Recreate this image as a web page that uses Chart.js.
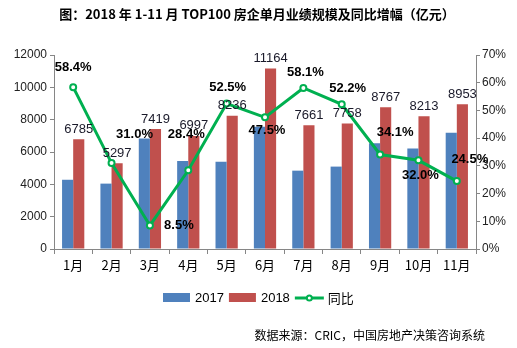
<!DOCTYPE html>
<html><head><meta charset="utf-8">
<script src="https://cdn.jsdelivr.net/npm/chart.js@4.4.1/dist/chart.umd.min.js"></script>
<style>html,body{margin:0;padding:0;background:#fff;}#wrap{width:517px;height:348px;}</style>
</head><body><div id="wrap"><canvas id="c" width="517" height="348"></canvas></div>
<script>
const categories = ['1月','2月','3月','4月','5月','6月','7月','8月','9月','10月','11月'];
const values2017 = [4283, 4044, 6838, 5449, 5401, 7569, 4846, 5097, 6538, 6222, 7191];
const values2018 = [6785, 5297, 7419, 6997, 8236, 11164, 7661, 7758, 8767, 8213, 8953];
const growth = [0.584, 0.310, 0.085, 0.284, 0.525, 0.475, 0.581, 0.522, 0.341, 0.320, 0.245];
const leftTicks = [0, 2000, 4000, 6000, 8000, 10000, 12000];
const rightTicks = [0, 0.1, 0.2, 0.3, 0.4, 0.5, 0.6, 0.7];
const seriesNames = ['2017', '2018', '同比'];
// label placement offsets (style, px) for growth labels
const growthLabelOffsets = [[0,-20],[23,-29],[29,0],[-2,-36],[1,-16],[2,13],[2,-16],[6,-16],[15,-22],[2,15],[13,-22]];

const FONT = '"Liberation Sans", "Noto Sans CJK SC", sans-serif';
const CJK = '"Noto Sans CJK SC", "Liberation Sans", sans-serif';
const BLUE = '#4F81BD', RED = '#C0504D', GREEN = '#00B050', AXIS = '#868686';

const labelPlugin = {
  id: 'labels',
  afterDatasetsDraw(chart) {
    const ctx = chart.ctx;
    ctx.save();
    const m1 = chart.getDatasetMeta(1);
    ctx.font = '13px ' + FONT;
    ctx.fillStyle = '#1a1a2a';
    ctx.textAlign = 'center';
    ctx.textBaseline = 'middle';
    m1.data.forEach((bar, i) => {
      ctx.fillText(String(values2018[i]), bar.x, bar.y - 10);
    });
    const m2 = chart.getDatasetMeta(2);
    ctx.font = 'bold 13px ' + FONT;
    ctx.fillStyle = '#000';
    m2.data.forEach((pt, i) => {
      const o = growthLabelOffsets[i];
      ctx.fillText((growth[i]*100).toFixed(1) + '%', pt.x + o[0], pt.y + o[1]);
    });
    ctx.restore();
  },
  afterDraw(chart) {
    const ctx = chart.ctx;
    ctx.save();
    ctx.font = 'bold 13px ' + CJK;
    ctx.fillStyle = '#000';
    ctx.textAlign = 'center';
    ctx.textBaseline = 'middle';
    ctx.fillText('图：2018 年 1-11 月 TOP100 房企单月业绩规模及同比增幅（亿元）', 257, 14);
    ctx.textAlign = 'left';
    let x = 163; const y = 298;
    const ds = chart.data.datasets;
    for (let i = 0; i < ds.length; i++) {
      if (i < 2) {
        ctx.fillStyle = ds[i].backgroundColor;
        ctx.fillRect(x, y - 5, 27, 9);
        x += 27 + 5;
      } else {
        ctx.strokeStyle = GREEN; ctx.lineWidth = 3;
        ctx.beginPath(); ctx.moveTo(x, y); ctx.lineTo(x + 29, y); ctx.stroke();
        ctx.fillStyle = '#fff'; ctx.lineWidth = 2;
        ctx.beginPath(); ctx.arc(x + 14.5, y, 2.5, 0, Math.PI*2); ctx.fill(); ctx.stroke();
        x += 29 + 4;
      }
      ctx.fillStyle = '#000';
      ctx.font = (i < 2 ? '13px ' + FONT : '13px ' + CJK);
      ctx.fillText(seriesNames[i], x, y);
      x += ctx.measureText(seriesNames[i]).width + 5;
    }
    ctx.font = '12px ' + CJK;
    ctx.textAlign = 'right';
    ctx.fillText('数据来源：CRIC，中国房地产决策咨询系统', 485, 335);
    ctx.restore();
  }
};

new Chart(document.getElementById('c'), {
  type: 'bar',
  data: {
    labels: categories,
    datasets: [
      { label: seriesNames[0], data: values2017, backgroundColor: BLUE, yAxisID: 'y', order: 1,
        categoryPercentage: 0.58, barPercentage: 1.0 },
      { label: seriesNames[1], data: values2018, backgroundColor: RED, yAxisID: 'y', order: 2,
        categoryPercentage: 0.58, barPercentage: 1.0 },
      { type: 'line', label: seriesNames[2], data: growth, yAxisID: 'y1', order: -1,
        borderColor: GREEN, borderWidth: 3, backgroundColor: '#fff',
        pointRadius: 3, pointBorderWidth: 2, pointBackgroundColor: '#fff', pointBorderColor: GREEN,
        tension: 0 }
    ]
  },
  options: {
    responsive: false,
    animation: false,
    devicePixelRatio: 1,
    layout: { padding: { left: 0, right: 0, top: 55, bottom: 67 } },
    plugins: { legend: { display: false }, title: { display: false }, tooltip: { enabled: false } },
    scales: {
      x: {
        grid: { display: true, drawOnChartArea: false, offset: true, color: AXIS, tickLength: 5 },
        border: { color: AXIS },
        ticks: { color: '#000', font: { size: 13, family: CJK }, padding: 3 },
        afterFit(s) { s.height = 32; }
      },
      y: {
        position: 'left', min: 0, max: 12000,
        afterBuildTicks(s) { s.ticks = leftTicks.map(v => ({ value: v })); },
        grid: { display: true, drawOnChartArea: false, color: AXIS, tickLength: 4 },
        border: { color: AXIS },
        ticks: { color: '#222', font: { size: 12, family: FONT }, padding: 3,
          callback: v => String(v) },
        afterFit(s) { s.width = 54; }
      },
      y1: {
        position: 'right', min: 0, max: 0.7,
        afterBuildTicks(s) { s.ticks = rightTicks.map(v => ({ value: v })); },
        grid: { display: true, drawOnChartArea: false, color: AXIS, tickLength: 4 },
        border: { color: AXIS },
        ticks: { color: '#222', font: { size: 12, family: FONT }, padding: 2,
          callback: v => Math.round(v * 100) + '%' },
        afterFit(s) { s.width = 41; }
      }
    }
  },
  plugins: [labelPlugin]
});
</script>
</body></html>
